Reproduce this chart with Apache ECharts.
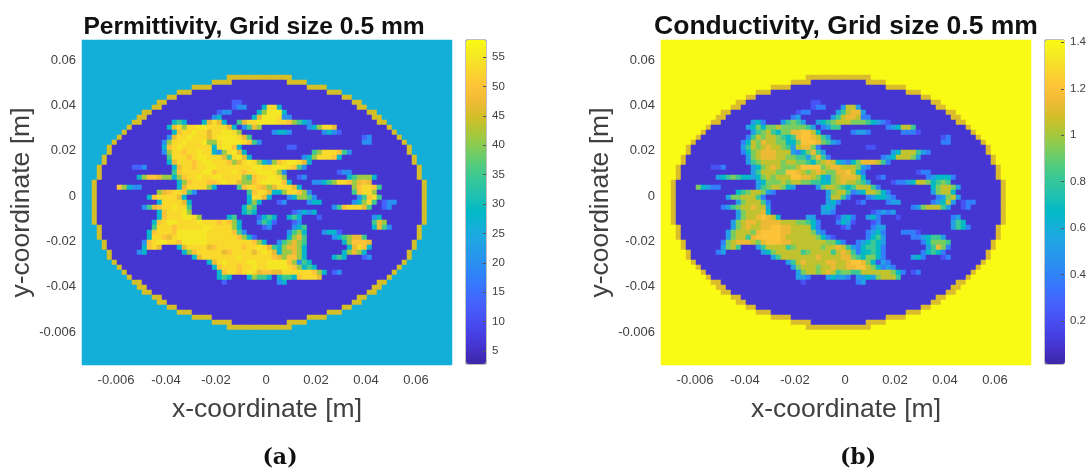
<!DOCTYPE html>
<html>
<head>
<meta charset="utf-8">
<style>html,body{margin:0;padding:0;background:#fff}#c{width:1089px;height:474px}</style>
<script src="https://cdn.jsdelivr.net/npm/echarts@6/dist/echarts.min.js"></script>
</head>
<body>
<div id="c"></div>
<script>
const COLS = 74, ROWS = 65;
// first ring row is 7
const ringLeft = [29,26,22,19,17,15,14,12,11,10,9,8,7,6,5,5,4,4,3,3,3,2,2,2,2,2,2,2,2,2,3,3,3,4,4,5,5,6,7,8,9,10,11,12,14,15,17,19,22,26,29];
const ringRight = [41,44,48,51,53,55,56,58,59,60,61,62,63,64,65,65,66,66,67,67,67,68,68,68,68,68,68,68,68,68,67,67,67,66,66,65,65,64,63,62,61,60,59,58,56,55,53,51,48,44,41];
const ringWall = [13,4,4,3,2,2,2,2,2,2,1,1,1,1,1,1,1,1,1,1,1,1,1,1,1,1,1,1,1,1,1,1,1,1,1,1,1,1,1,1,1,2,2,2,2,2,2,3,4,4,13];

const permittivityLevels = [6,13,20,28,35,41,47,50,53,55];
const permittivityBackground = 26, permittivityRing = 45;
const permittivityRuns = [
[12,30,'11'],[13,30,'122'],[13,36,'3883'],[14,27,'122'],[14,35,'359993'],[15,26,'23'],[15,34,'36999822'],
[16,18,'343'],[16,24,'36863'],[16,31,'468899998875432'],
[17,17,'36858899888863'],[17,32,'2465'],[17,45,'235886'],
[18,18,'37889886889985'],[18,38,'2332'],[18,48,'2321'],
[19,17,'26889888689999864'],[19,56,'12'],
[20,16,'25889888955899998742'],[20,56,'22'],
[21,16,'3789888888389973'],[21,41,'11'],
[22,16,'25887889883258963'],[22,46,'45888742'],
[23,17,'48887899888648963'],[23,44,'23588873'],
[24,17,'36888789988875689853'],[24,37,'257899863'],
[25,10,'112'],[25,18,'368878899888888899889998742'],
[26,18,'47888899788898788999852'],[26,51,'122'],
[27,11,'35776553'],[27,19,'5788988998888547889985'],[27,43,'12'],[27,53,'345553'],
[28,19,'35788877898865578999973'],[28,46,'223458875676'],
[29,7,'75322'],[29,19,'36888853'],[29,31,'4788765688863'],[29,54,'578874'],
[30,15,'56788742'],[30,33,'478863'],[30,39,'3588752'],[30,54,'47885'],
[31,13,'37888863'],[31,33,'38863'],[31,41,'235542'],[31,55,'24784'],
[32,15,'3888863'],[32,33,'353'],[32,39,'12'],[32,45,'233'],[32,54,'23584'],[32,60,'122'],
[33,12,'2467889884'],[33,32,'354'],[33,50,'24788864'],[33,60,'12'],
[34,15,'3788895'],[34,32,'343'],[34,42,'123'],[34,45,'23'],
[35,15,'378889985'],[35,29,'34'],[35,35,'1343'],[35,41,'343'],[35,47,'1'],[35,58,'23'],
[36,14,'378998888988878753'],[36,35,'2431'],[36,42,'12'],[36,58,'465'],
[37,14,'488878888899888853'],[37,36,'12'],[37,42,'234'],[37,58,'3642'],
[38,13,'37888799999988888742'],[38,41,'2453'],[38,48,'2331'],
[39,13,'3887689999998888887531'],[39,41,'3564'],[39,50,'2345664'],
[40,12,'2789988799999888888888753'],[40,39,'245654'],[40,52,'357776'],
[41,12,'3786'],[41,19,'36888867888887889864'],[41,39,'356653'],[41,53,'36873'],
[42,11,'23'],[42,20,'3578888867888868986'],[42,39,'355653'],[42,52,'35653'],
[43,22,'36888888898888887657753'],[43,50,'343'],[43,56,'12'],
[44,25,'368988889988999975243'],
[45,26,'378887889889999875343'],
[46,27,'3788789867766888888753'],[46,50,'12'],
[47,27,'343'],[47,33,'354'],[47,36,'43'],[47,39,'344'],[47,42,'378886'],
[48,28,'1'],[48,39,'23']
];

const conductivityLevels = [0.1,0.22,0.38,0.52,0.68,0.82,0.93,1.05,1.14,1.2];
const conductivityBackground = 1.41, conductivityRing = 1.1;
const conductivityRuns = [
[12,30,'11'],[13,30,'122'],[13,36,'3773'],[14,27,'122'],[14,35,'357883'],[15,26,'23'],[15,34,'35788722'],
[16,18,'342'],[16,24,'35653'],[16,31,'345677766654321'],
[17,17,'34646676666653'],[17,32,'2355'],[17,45,'234775'],
[18,18,'35675466889974'],[18,38,'2332'],[18,48,'2221'],
[19,17,'25767765458998753'],[19,56,'12'],
[20,16,'24768776644699986532'],[20,56,'22'],
[21,16,'3576787765378862'],[21,41,'11'],
[22,16,'24678887773246853'],[22,46,'34777532'],
[23,17,'36788877665536852'],[23,44,'23477763'],
[24,17,'35677776776654678743'],[24,37,'246888752'],
[25,10,'112'],[25,18,'346787666799996788777632'],
[26,18,'35777669987678766889742'],[26,51,'122'],
[27,11,'34565443'],[27,19,'4676777998876436788874'],[27,43,'12'],[27,53,'234442'],
[28,19,'34666767766554467877653'],[28,46,'122347764565'],
[29,7,'64322'],[29,19,'35677643'],[29,31,'3677654577752'],[29,54,'467763'],
[30,15,'45677632'],[30,33,'367752'],[30,39,'3477642'],[30,54,'36774'],
[31,13,'36677752'],[31,33,'37752'],[31,41,'234432'],[31,55,'23673'],
[32,15,'3677752'],[32,33,'342'],[32,39,'12'],[32,45,'233'],[32,54,'23473'],[32,60,'122'],
[33,12,'2356778773'],[33,32,'343'],[33,50,'23677753'],[33,60,'12'],
[34,15,'3677784'],[34,32,'332'],[34,42,'123'],[34,45,'23'],
[35,15,'367789874'],[35,29,'33'],[35,35,'1342'],[35,41,'342'],[35,47,'1'],[35,58,'23'],
[36,14,'367887888877766542'],[36,35,'2431'],[36,42,'12'],[36,58,'354'],
[37,14,'367877889988777742'],[37,36,'12'],[37,42,'233'],[37,58,'3542'],
[38,13,'36777689999887777632'],[38,41,'2342'],[38,48,'2221'],
[39,13,'3677589999987777776421'],[39,41,'2453'],[39,50,'2234553'],
[40,12,'2678887689998877777776642'],[40,39,'234543'],[40,52,'246665'],
[41,12,'3675'],[41,19,'35777756777776778753'],[41,39,'245542'],[41,53,'35862'],
[42,11,'23'],[42,20,'3467777756777757875'],[42,39,'244542'],[42,52,'24542'],
[43,22,'35777777787777886546642'],[43,50,'342'],[43,56,'12'],
[44,25,'357877778877899864132'],
[45,26,'367776778778899764232'],
[46,27,'3677678756655777777642'],[46,50,'12'],
[47,27,'332'],[47,33,'343'],[47,36,'32'],[47,39,'334'],[47,42,'367775'],
[48,28,'1'],[48,39,'23']
];

const xTickValues = [-0.06,-0.04,-0.02,0,0.02,0.04,0.06];
const xTickLabels = ['-0.006','-0.04','-0.02','0','0.02','0.04','0.06'];
const yTickValues = [-0.06,-0.04,-0.02,0,0.02,0.04,0.06];
const yTickLabels = ['-0.006','-0.04','-0.02','0','0.02','0.04','0.06'];
const permittivityTicks = [5,10,15,20,25,30,35,40,45,50,55];
const conductivityTicks = [0.2,0.4,0.6,0.8,1,1.2,1.4];
const conductivityTickLabels = ['0.2','0.4','0.6','0.8','1','1.2','1.4'];
const parula = ['#3e26a8','#4432cb','#4741e5','#4852f4','#4563fd','#3875fe','#2e87f7','#2796eb','#20a5e3','#12b1d6','#02bac3','#24c1ae','#37c897','#57cc7a','#81cc59','#abc739','#d1bf27','#efba36','#fec338','#f9d62d','#f5e924','#f9fb14'];

function buildCells(runs, levels, background, ring) {
  const rows = [];
  for (let r = 0; r < ROWS; r++) rows.push(new Array(COLS).fill(background));
  ringLeft.forEach((L, i) => {
    const r = 7 + i, R = ringRight[i], w = ringWall[i];
    for (let c = L; c <= R; c++) rows[r][c] = (c < L + w || c > R - w) ? ring : levels[0];
  });
  runs.forEach(([r, c0, s]) => {
    const i = r - 7;
    for (let k = 0; k < s.length; k++) {
      const c = c0 + k;
      if (c >= ringLeft[i] + ringWall[i] && c <= ringRight[i] - ringWall[i]) rows[r][c] = levels[+s[k]];
    }
  });
  const out = [];
  rows.forEach((row, r) => row.forEach((v, c) => out.push([c, r, v])));
  return out;
}

const colIdx = Array.from({length: COLS}, (_, i) => i);
const rowIdx = Array.from({length: ROWS}, (_, i) => i);
const FONT = '"Liberation Sans", Arial, sans-serif';
const INK = '#404040';
const lookup = (vals, labs) => v => { const i = vals.findIndex(t => Math.abs(t - v) < 1e-9); return i < 0 ? '' : labs[i]; };

const panelLefts = [82, 661];
const PW = 370, PH = 325, PT = 40;
const barLefts = [466, 1045], BW = 20;

const grids = [], xAxes = [], yAxes = [], series = [], visualMaps = [];
const panels = [
  {cells: buildCells(permittivityRuns, permittivityLevels, permittivityBackground, permittivityRing), min: 2.8, max: 57.9, ticks: permittivityTicks, labels: permittivityTicks.map(String)},
  {cells: buildCells(conductivityRuns, conductivityLevels, conductivityBackground, conductivityRing), min: 0.015, max: 1.41, ticks: conductivityTicks, labels: conductivityTickLabels}
];
panels.forEach((p, i) => {
  const g = grids.length;
  grids.push({left: panelLefts[i], top: PT, width: PW, height: PH, show: false});
  grids.push({left: barLefts[i], top: PT, width: BW, height: 324, show: true, borderColor: '#808080', borderWidth: 1, backgroundColor: 'transparent'});
  const xc = xAxes.length;
  xAxes.push({type: 'category', gridIndex: g, data: colIdx, show: false});
  xAxes.push({type: 'value', gridIndex: g, min: -0.0736, max: 0.0744, position: 'bottom', splitLine: {show: false},
    axisLine: {show: false, onZero: false}, axisTick: {show: false},
    axisLabel: {customValues: xTickValues, formatter: lookup(xTickValues, xTickLabels), color: INK, fontFamily: FONT, fontSize: 13, margin: 9},
    name: 'x-coordinate [m]', nameLocation: 'middle', nameGap: 31, nameTextStyle: {fontFamily: FONT, fontSize: 26.5, color: INK}});
  xAxes.push({type: 'value', gridIndex: g + 1, min: 0, max: 1, show: false});
  const yc = yAxes.length;
  yAxes.push({type: 'category', gridIndex: g, data: rowIdx, inverse: true, show: false});
  yAxes.push({type: 'value', gridIndex: g, min: -0.0745, max: 0.0688, position: 'left', splitLine: {show: false},
    axisLine: {show: false, onZero: false}, axisTick: {show: false},
    axisLabel: {customValues: yTickValues, formatter: lookup(yTickValues, yTickLabels), color: INK, fontFamily: FONT, fontSize: 13, margin: 6},
    name: 'y-coordinate [m]', nameLocation: 'middle', nameGap: 43, nameTextStyle: {fontFamily: FONT, fontSize: 26.5, color: INK}});
  yAxes.push({type: 'value', gridIndex: g + 1, min: p.min, max: p.max, position: 'right', splitLine: {show: false},
    axisLine: {show: false, onZero: false}, axisTick: {show: true, inside: true, length: 3, customValues: p.ticks, lineStyle: {color: '#555', width: 1}},
    axisLabel: {customValues: p.ticks, formatter: lookup(p.ticks, p.labels), color: INK, fontFamily: FONT, fontSize: 11.5, margin: 6}, z: 10});
  series.push({type: 'heatmap', xAxisIndex: xc, yAxisIndex: yc, data: p.cells, progressive: 0, itemStyle: {borderWidth: 0}, emphasis: {disabled: true}});
  visualMaps.push({type: 'continuous', seriesIndex: i, min: p.min, max: p.max, dimension: 2, calculable: false, show: true,
    left: barLefts[i], top: PT, itemWidth: BW, itemHeight: 324, padding: 0, text: null, inRange: {color: parula}, orient: 'vertical', hoverLink: false});
});

const titleStyle = {fontFamily: FONT, fontWeight: 'bold', fontSize: 24.6, color: '#111'};
const titleStyleB = {fontFamily: FONT, fontWeight: 'bold', fontSize: 26.5, color: '#111'};
const capStyle = {fontFamily: '"DejaVu Serif", serif', fontWeight: 'bold', fontSize: 22, color: '#111'};
const chart = echarts.init(document.getElementById('c'), null, {renderer: 'canvas'});
chart.setOption({
  animation: false,
  backgroundColor: '#fff',
  title: [
    {text: 'Permittivity, Grid size 0.5 mm', left: 254, top: 15, padding: 0, textAlign: 'center', textStyle: titleStyle},
    {text: 'Conductivity, Grid size 0.5 mm', left: 846, top: 13, padding: 0, textAlign: 'center', textStyle: titleStyleB},
    {text: '(a)', left: 280, top: 447, padding: 0, textAlign: 'center', textStyle: capStyle},
    {text: '(b)', left: 858, top: 447, padding: 0, textAlign: 'center', textStyle: capStyle}
  ],
  tooltip: {show: false},
  grid: grids, xAxis: xAxes, yAxis: yAxes, series: series, visualMap: visualMaps
});
</script>
</body>
</html>
